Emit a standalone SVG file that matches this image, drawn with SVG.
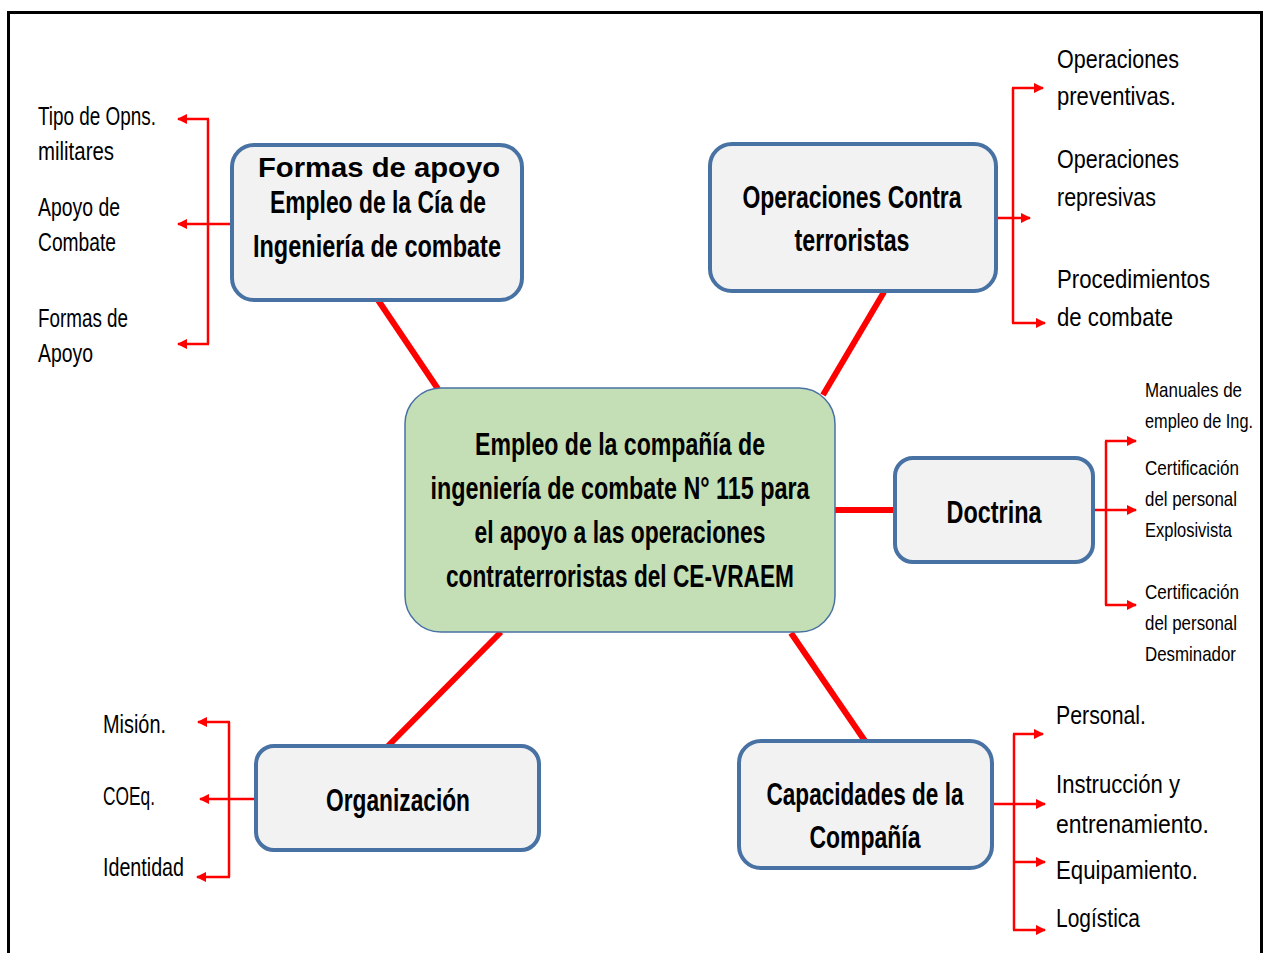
<svg xmlns="http://www.w3.org/2000/svg" width="1267" height="953" viewBox="0 0 1267 953">
<style>
.box{fill:#f2f2f2;stroke:#4872a3;stroke-width:4}
.center{fill:#c4dfb5;stroke:#4872a3;stroke-width:1.5}
.bt{font-family:"Liberation Sans Narrow","Liberation Sans",sans-serif;font-weight:bold;font-size:32px;fill:#000;text-anchor:middle}
.ct{font-family:"Liberation Sans Narrow","Liberation Sans",sans-serif;font-weight:bold;font-size:31px;fill:#000;text-anchor:middle}
.lb{font-family:"Liberation Sans Narrow","Liberation Sans",sans-serif;font-size:26px;fill:#000}
.sm{font-family:"Liberation Sans Narrow","Liberation Sans",sans-serif;font-size:21px;fill:#000}
.thick{stroke:#ff0000;stroke-width:6;fill:none}
.br{stroke:#ff0000;stroke-width:2.5;fill:none}
.ar{stroke:#ff0000;stroke-width:2.5;fill:none;marker-end:url(#ah)}
</style>
<defs>
<marker id="ah" viewBox="0 0 10 10" refX="9" refY="5" markerWidth="4.2" markerHeight="4.2" orient="auto" markerUnits="strokeWidth">
<path d="M0,0 L10,5 L0,10 z" fill="#ff0000"/>
</marker>
</defs>
<rect x="0" y="0" width="1267" height="953" fill="#ffffff"/>
<rect x="8.5" y="12.5" width="1253" height="960" fill="none" stroke="#000" stroke-width="3"/>

<g id="connectors">
<line class="thick" x1="378" y1="300" x2="438" y2="389"/>
<line class="thick" x1="884" y1="292" x2="823" y2="395"/>
<line class="thick" x1="835" y1="510" x2="895" y2="510"/>
<line class="thick" x1="501" y1="632" x2="388" y2="746"/>
<line class="thick" x1="791" y1="633" x2="865" y2="741"/>

<path class="br" d="M208,119 V344"/>
<line class="ar" x1="209" y1="119" x2="178" y2="119"/>
<line class="ar" x1="232" y1="224" x2="178" y2="224"/>
<line class="ar" x1="209" y1="344" x2="178" y2="344"/>

<path class="br" d="M1013,88 V323"/>
<line class="ar" x1="1012" y1="88" x2="1043" y2="88"/>
<line class="ar" x1="996" y1="218" x2="1030" y2="218"/>
<line class="ar" x1="1012" y1="323" x2="1045" y2="323"/>

<path class="br" d="M1106,441 V605"/>
<line class="ar" x1="1105" y1="441" x2="1136" y2="441"/>
<line class="ar" x1="1093" y1="510" x2="1136" y2="510"/>
<line class="ar" x1="1105" y1="605" x2="1136" y2="605"/>

<path class="br" d="M229,722 V877"/>
<line class="ar" x1="230" y1="722" x2="198" y2="722"/>
<line class="ar" x1="256" y1="799" x2="200" y2="799"/>
<line class="ar" x1="230" y1="877" x2="197" y2="877"/>

<path class="br" d="M1014,734 V930"/>
<line class="ar" x1="1013" y1="734" x2="1043" y2="734"/>
<line class="ar" x1="992" y1="804" x2="1045" y2="804"/>
<line class="ar" x1="1013" y1="862" x2="1045" y2="862"/>
<line class="ar" x1="1013" y1="930" x2="1045" y2="930"/>
</g>

<g id="center">
<rect class="center" x="405" y="388" width="430" height="244" rx="36"/>
<text class="ct" x="620" y="455" textLength="290" lengthAdjust="spacingAndGlyphs">Empleo de la compañía de</text>
<text class="ct" x="620" y="499" textLength="379" lengthAdjust="spacingAndGlyphs">ingeniería de combate N° 115 para</text>
<text class="ct" x="620" y="543" textLength="291" lengthAdjust="spacingAndGlyphs">el apoyo a las operaciones</text>
<text class="ct" x="620" y="587" textLength="348" lengthAdjust="spacingAndGlyphs">contraterroristas del CE-VRAEM</text>
</g>

<g id="formas">
<rect class="box" x="232" y="145" width="290" height="155" rx="22"/>
<text x="379" y="177" font-family="'Liberation Sans',Arial,sans-serif" font-weight="bold" font-size="28" text-anchor="middle" textLength="242" lengthAdjust="spacingAndGlyphs">Formas de apoyo</text>
<text class="bt" x="378" y="213" textLength="216" lengthAdjust="spacingAndGlyphs">Empleo de la Cía de</text>
<text class="bt" x="377" y="257" textLength="248" lengthAdjust="spacingAndGlyphs">Ingeniería de combate</text>
</g>
<g id="formas-labels">
<text class="lb" x="38" y="125" textLength="118" lengthAdjust="spacingAndGlyphs">Tipo de Opns.</text>
<text class="lb" x="38" y="160" textLength="76" lengthAdjust="spacingAndGlyphs">militares</text>
<text class="lb" x="38" y="216" textLength="82" lengthAdjust="spacingAndGlyphs">Apoyo de</text>
<text class="lb" x="38" y="251" textLength="78" lengthAdjust="spacingAndGlyphs">Combate</text>
<text class="lb" x="38" y="327" textLength="90" lengthAdjust="spacingAndGlyphs">Formas de</text>
<text class="lb" x="38" y="362" textLength="55" lengthAdjust="spacingAndGlyphs">Apoyo</text>
</g>

<g id="operaciones">
<rect class="box" x="710" y="144" width="286" height="147" rx="22"/>
<text class="bt" x="852" y="208" textLength="219" lengthAdjust="spacingAndGlyphs">Operaciones Contra</text>
<text class="bt" x="852" y="251" textLength="115" lengthAdjust="spacingAndGlyphs">terroristas</text>
</g>
<g id="operaciones-labels">
<text class="lb" x="1057" y="68" font-size="27" textLength="122" lengthAdjust="spacingAndGlyphs">Operaciones</text>
<text class="lb" x="1057" y="105" font-size="27" textLength="119" lengthAdjust="spacingAndGlyphs">preventivas.</text>
<text class="lb" x="1057" y="168" font-size="27" textLength="122" lengthAdjust="spacingAndGlyphs">Operaciones</text>
<text class="lb" x="1057" y="206" font-size="27" textLength="99" lengthAdjust="spacingAndGlyphs">represivas</text>
<text class="lb" x="1057" y="288" font-size="27" textLength="153" lengthAdjust="spacingAndGlyphs">Procedimientos</text>
<text class="lb" x="1057" y="326" font-size="27" textLength="116" lengthAdjust="spacingAndGlyphs">de combate</text>
</g>

<g id="doctrina">
<rect class="box" x="895" y="458" width="198" height="104" rx="18"/>
<text class="bt" x="994" y="523" textLength="95" lengthAdjust="spacingAndGlyphs">Doctrina</text>
</g>
<g id="doctrina-labels">
<text class="sm" x="1145" y="397" textLength="97" lengthAdjust="spacingAndGlyphs">Manuales de</text>
<text class="sm" x="1145" y="428" textLength="108" lengthAdjust="spacingAndGlyphs">empleo de Ing.</text>
<text class="sm" x="1145" y="475" textLength="94" lengthAdjust="spacingAndGlyphs">Certificación</text>
<text class="sm" x="1145" y="506" textLength="92" lengthAdjust="spacingAndGlyphs">del personal</text>
<text class="sm" x="1145" y="537" textLength="87" lengthAdjust="spacingAndGlyphs">Explosivista</text>
<text class="sm" x="1145" y="599" textLength="94" lengthAdjust="spacingAndGlyphs">Certificación</text>
<text class="sm" x="1145" y="630" textLength="92" lengthAdjust="spacingAndGlyphs">del personal</text>
<text class="sm" x="1145" y="661" textLength="91" lengthAdjust="spacingAndGlyphs">Desminador</text>
</g>

<g id="organizacion">
<rect class="box" x="256" y="746" width="283" height="104" rx="18"/>
<text class="bt" x="398" y="811" textLength="144" lengthAdjust="spacingAndGlyphs">Organización</text>
</g>
<g id="organizacion-labels">
<text class="lb" x="103" y="733" textLength="63" lengthAdjust="spacingAndGlyphs">Misión.</text>
<text class="lb" x="103" y="805" textLength="52" lengthAdjust="spacingAndGlyphs">COEq.</text>
<text class="lb" x="103" y="876" textLength="81" lengthAdjust="spacingAndGlyphs">Identidad</text>
</g>

<g id="capacidades">
<rect class="box" x="739" y="741" width="253" height="127" rx="22"/>
<text class="bt" x="865" y="805" textLength="197" lengthAdjust="spacingAndGlyphs">Capacidades de la</text>
<text class="bt" x="865" y="848" textLength="111" lengthAdjust="spacingAndGlyphs">Compañía</text>
</g>
<g id="capacidades-labels">
<text class="lb" x="1056" y="724" font-size="27" textLength="90" lengthAdjust="spacingAndGlyphs">Personal.</text>
<text class="lb" x="1056" y="793" font-size="27" textLength="124" lengthAdjust="spacingAndGlyphs">Instrucción y</text>
<text class="lb" x="1056" y="833" font-size="27" textLength="153" lengthAdjust="spacingAndGlyphs">entrenamiento.</text>
<text class="lb" x="1056" y="879" font-size="27" textLength="142" lengthAdjust="spacingAndGlyphs">Equipamiento.</text>
<text class="lb" x="1056" y="927" font-size="27" textLength="84" lengthAdjust="spacingAndGlyphs">Logística</text>
</g>
</svg>
